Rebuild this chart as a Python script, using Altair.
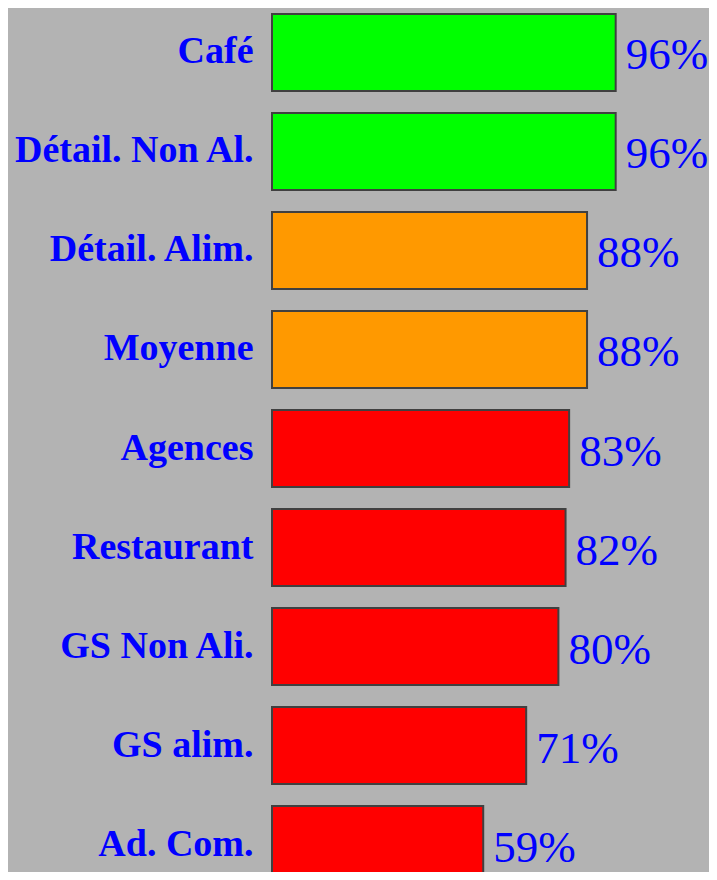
import altair as alt
import pandas as pd

categories = ["Café", "Détail. Non Al.", "Détail. Alim.", "Moyenne", "Agences",
              "Restaurant", "GS Non Ali.", "GS alim.", "Ad. Com."]
values = [96, 96, 88, 88, 83, 82, 80, 71, 59]
colors = ["#00ff00", "#00ff00", "#ff9900", "#ff9900", "#ff0000",
          "#ff0000", "#ff0000", "#ff0000", "#ff0000"]
labels = [f"{v}%" for v in values]

df = pd.DataFrame({"cat": categories, "val": values, "col": colors, "lab": labels})

y = alt.Y("cat:N", sort=categories, title=None,
          scale=alt.Scale(paddingInner=0.222, paddingOuter=0.06),
          axis=alt.Axis(domain=False, ticks=False, labelFont="Liberation Serif",
                        labelFontWeight="bold", labelFontSize=38, labelColor="#0000ff",
                        labelPadding=19, labelLimit=400, labelOffset=0))
x = alt.X("val:Q", scale=alt.Scale(domain=[0, 100]), axis=None)

bars = alt.Chart(df).mark_bar(stroke="#404040", strokeWidth=2).encode(
    x=x, y=y, color=alt.Color("col:N", scale=None))
text = alt.Chart(df).mark_text(align="left", baseline="middle", dx=10, dy=3,
                               font="Liberation Serif", fontSize=45, color="#0000ff").encode(
    x=x, y=alt.Y("cat:N", sort=categories), text="lab:N")

chart = (bars + text).properties(
    width=358, height=881,
    autosize=alt.AutoSizeParams(type="none"),
    padding={"left": 264, "top": 0, "right": 79, "bottom": -17},
    background="#b3b3b3",
).configure_view(stroke=None)

chart.save("out.html", embed_options={"renderer": "svg", "actions": False})
